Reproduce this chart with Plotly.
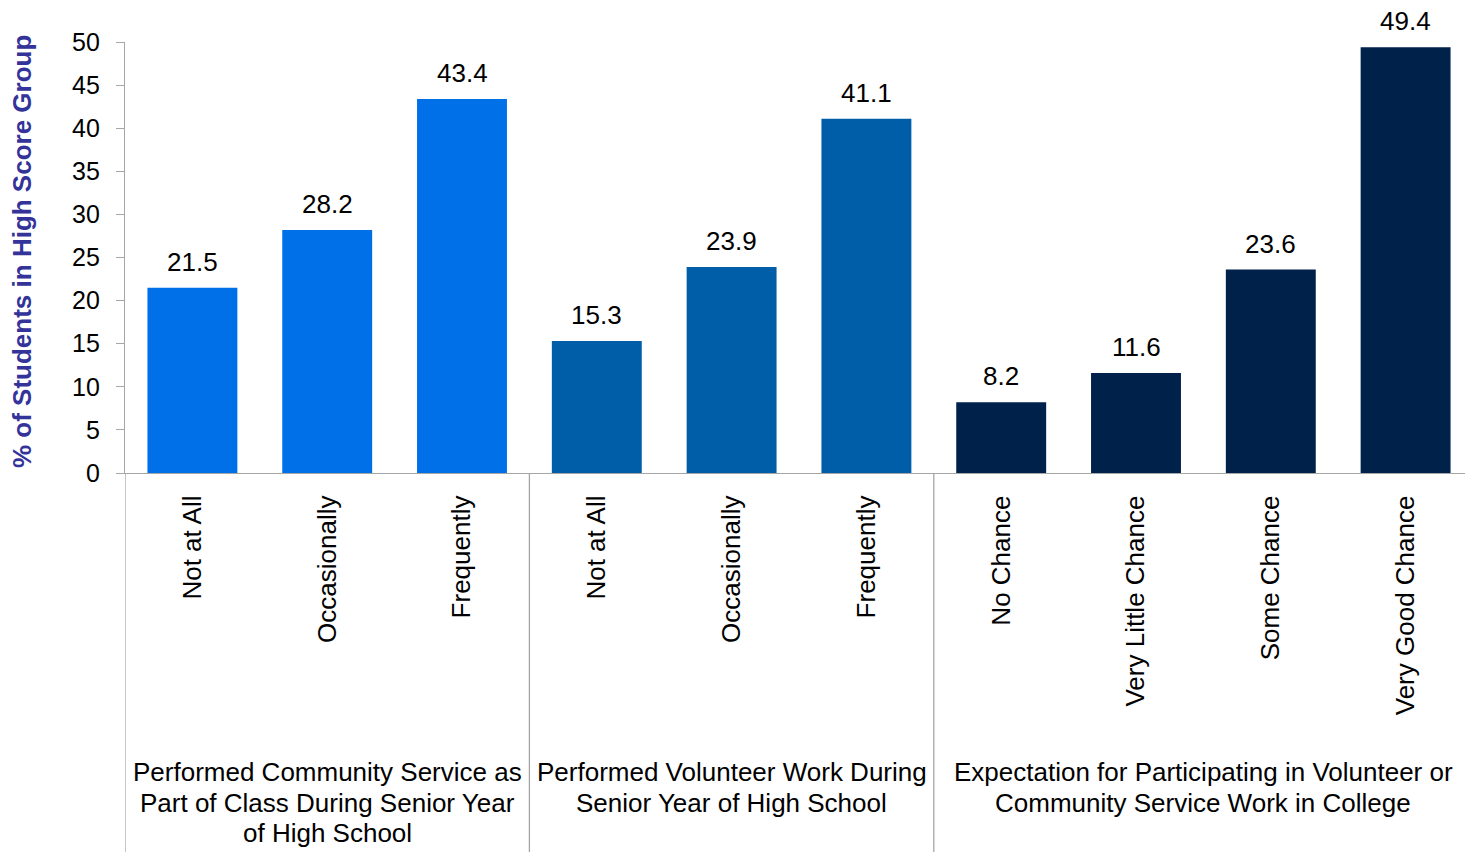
import plotly.graph_objects as go

group_labels = [
    ["Performed Community Service as", "Part of Class During Senior Year", "of High School"],
    ["Performed Volunteer Work During", "Senior Year of High School"],
    ["Expectation for Participating in Volunteer or", "Community Service Work in College"],
]
group_categories = [
    ["Not at All", "Occasionally", "Frequently"],
    ["Not at All", "Occasionally", "Frequently"],
    ["No Chance", "Very Little Chance", "Some Chance", "Very Good Chance"],
]
group_values = [
    [21.5, 28.2, 43.4],
    [15.3, 23.9, 41.1],
    [8.2, 11.6, 23.6, 49.4],
]
group_colors = ["#0070E8", "#005DA8", "#00214A"]
y_ticks = [0, 5, 10, 15, 20, 25, 30, 35, 40, 45, 50]
y_title = "% of Students in High Score Group"

FONT = "Liberation Sans, Arial, sans-serif"
# page body has an 8px margin; figure is placed at (8, 8)
OFF = 8
W, H = 1473 - OFF, 852 - OFF
ML, MR, MT, MB = 125 - OFF, 0, 42 - OFF, 852 - 473
plot_h = H - MT - MB
plot_w = W - ML - MR
Y0 = 473  # absolute pixel of y=0


def py(abs_y):
    return (Y0 - abs_y) / plot_h


fig = go.Figure()
annotations = []
shapes = []
tickvals, ticktext = [], []
pos = 0
for gi, (cats, vals) in enumerate(zip(group_categories, group_values)):
    xs = list(range(pos, pos + len(cats)))
    fig.add_trace(go.Bar(
        x=xs, y=vals, width=0.667,
        marker=dict(color=group_colors[gi], line=dict(width=0)),
        showlegend=False, hoverinfo="y",
    ))
    for x, v in zip(xs, vals):
        annotations.append(dict(
            x=x, y=v, xref="x", yref="y", text=f"{v:.1f}", showarrow=False,
            yanchor="bottom", yshift=9, font=dict(family=FONT, size=26, color="#000000"),
        ))
    tickvals += xs
    ticktext += cats
    # group label, one annotation per line
    for li, line in enumerate(group_labels[gi]):
        annotations.append(dict(
            x=(xs[0] + xs[-1]) / 2, y=py(772 + 30.5 * li), xref="x", yref="paper",
            text=line, showarrow=False, yanchor="middle", xanchor="center",
            font=dict(family=FONT, size=26, color="#000000"),
        ))
    # separator line at group start
    shapes.append(dict(
        type="line", xref="x", yref="paper", x0=pos - 0.5, x1=pos - 0.5,
        y0=0, y1=-MB / plot_h, line=dict(color="#A6A6A6", width=1.3),
    ))
    pos += len(cats)

annotations.append(dict(
    x=-(125 - 22) / plot_w, y=py(252), xref="paper", yref="paper",
    text=f"<b>{y_title}</b>", textangle=-90, showarrow=False,
    xanchor="center", yanchor="middle",
    font=dict(family=FONT, size=26, color="#333399"),
))

fig.update_layout(
    width=W, height=H,
    margin=dict(l=ML, r=MR, t=MT, b=MB, pad=0),
    paper_bgcolor="white", plot_bgcolor="white",
    bargap=0.333,
    font=dict(family=FONT, size=26, color="#000000"),
    annotations=annotations,
    shapes=shapes,
    xaxis=dict(
        range=[-0.5, pos - 0.5], tickmode="array", tickvals=tickvals, ticktext=ticktext,
        tickangle=-90, showgrid=False, zeroline=False, showline=True,
        linecolor="#A6A6A6", linewidth=1.3, ticks="", ticklabelstandoff=11,
        tickfont=dict(family=FONT, size=26, color="#000000"),
    ),
    yaxis=dict(
        range=[0, 50], tickmode="array", tickvals=y_ticks, showgrid=False,
        zeroline=False, showline=True, linecolor="#A6A6A6", linewidth=1.3,
        ticks="outside", ticklen=8, tickcolor="#A6A6A6", tickwidth=1.3,
        ticklabelstandoff=11,
        tickfont=dict(family=FONT, size=25, color="#000000"),
    ),
)

fig.write_html("out.html")
